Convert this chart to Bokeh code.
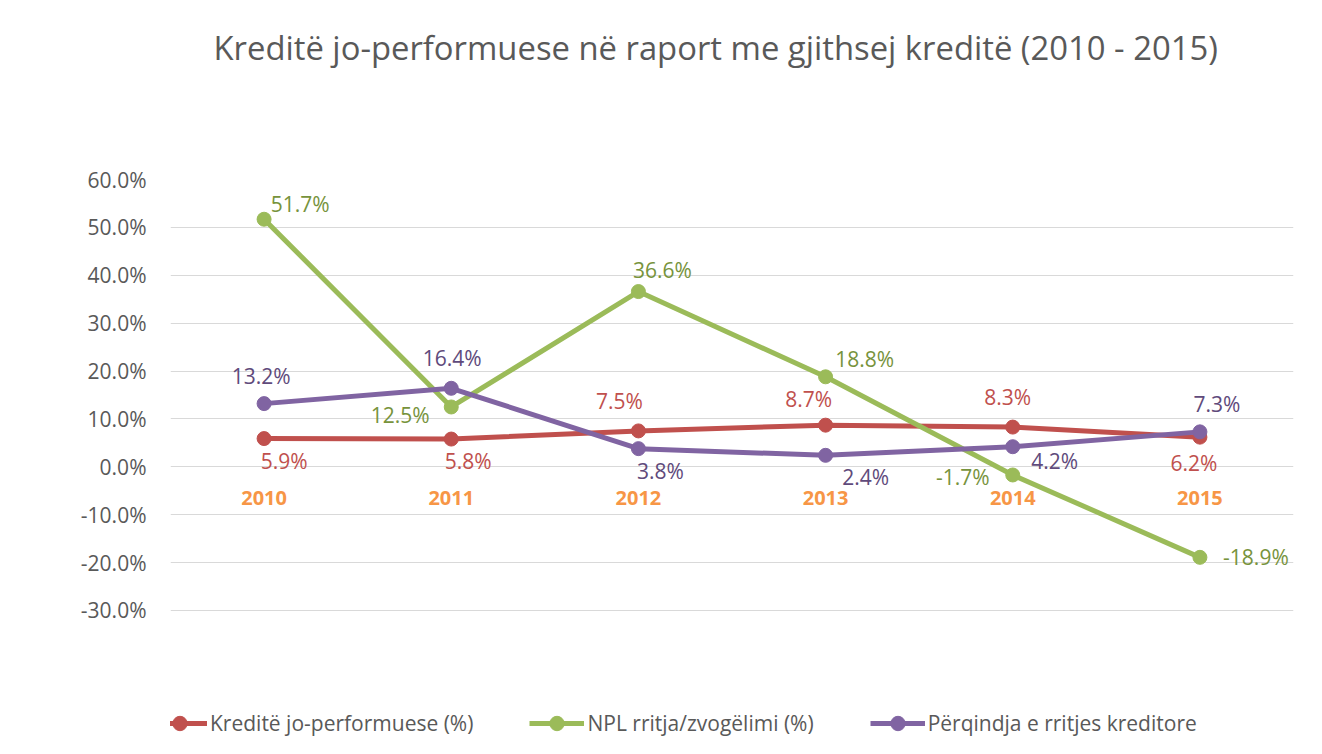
from bokeh.plotting import figure
from bokeh.models import (FactorRange, Range1d, FixedTicker, PrintfTickFormatter,
                          Legend, LegendItem, ColumnDataSource, Title)
from bokeh.core.properties import value
from bokeh.embed import file_html
from bokeh.resources import INLINE

# ---------------- data ----------------
years = ["2010", "2011", "2012", "2013", "2014", "2015"]
npl_ratio = [5.9, 5.8, 7.5, 8.7, 8.3, 6.2]            # Kreditë jo-performuese (%)
npl_growth = [51.7, 12.5, 36.6, 18.8, -1.7, -18.9]     # NPL rritja/zvogëlimi (%)
credit_growth = [13.2, 16.4, 3.8, 2.4, 4.2, 7.3]       # Përqindja e rritjes kreditore
series_names = ["Kreditë jo-performuese (%)", "NPL rritja/zvogëlimi (%)",
                "Përqindja e rritjes kreditore"]
y_ticks = [-30, -20, -10, 0, 10, 20, 30, 40, 50, 60]
title_text = "Kreditë jo-performuese në raport me gjithsej kreditë (2010 - 2015)"

# ---------------- styles ----------------
line_colors = ["#C0504D", "#9BBB59", "#8064A2"]
label_colors = ["#C0504D", "#77933C", "#604A7B"]
# data-label pixel offsets (screen, y downward) per series
label_dx = [[20, 17, -19, -17, -5, -6],
            [36, -51, 24, 39, -50, 56],
            [-3, 1, 22, 40, 42, 17]]
label_dy = [[22, 22, -30, -26, -30, 26],
            [-15, 8, -22, -18, 2, 0],
            [-28, -30, 22, 22, 14, -28]]
FONT = "Open Sans"
GREY = "#595959"

# plot area reaches the bottom of the canvas so that the legend can sit in it;
# ticks/grid only from -30 to 60
p = figure(width=1306, height=746,
           x_range=FactorRange(factors=years, range_padding=0),
           y_range=Range1d(-58.4, 60),
           x_axis_location=None,
           output_backend="svg", toolbar_location=None,
           min_border_left=170, min_border_right=13,
           min_border_top=179, min_border_bottom=0)

p.outline_line_color = None
p.background_fill_color = "white"
p.border_fill_color = "white"

# title (outermost) + spacer title between it and the plot area
p.title.text = title_text
p.title.align = "left"
p.title.offset = 43
p.title.text_font = FONT
p.title.text_font_size = "32.8px"
p.title.text_font_style = "normal"
p.title.text_color = GREY
p.title.standoff = 0
p.add_layout(Title(text=" ", text_font_size="10px", standoff=97), "above")

# grid
p.xgrid.grid_line_color = None
p.ygrid.grid_line_color = "#D9D9D9"
p.ygrid.grid_line_width = 1

# y axis
p.yaxis.ticker = FixedTicker(ticks=y_ticks)
p.yaxis.formatter = PrintfTickFormatter(format="%.1f%%")
p.yaxis.axis_line_color = None
p.yaxis.major_tick_line_color = None
p.yaxis.minor_tick_line_color = None
p.yaxis.major_label_text_font = FONT
p.yaxis.major_label_text_font_size = "21px"
p.yaxis.major_label_text_color = GREY
p.yaxis.major_label_standoff = 18

# category labels sitting under the zero line
p.text(x=years, y=[0] * len(years), text=years, y_offset=31,
       text_align="center", text_baseline="middle",
       text_font=value(FONT), text_font_size="20px", text_font_style="bold",
       text_color="#F79646")

items = []
for k, vals in enumerate([npl_ratio, npl_growth, credit_growth]):
    src = ColumnDataSource(dict(x=years, y=vals))
    lr = p.line("x", "y", source=src, line_color=line_colors[k], line_width=5)
    sr = p.scatter("x", "y", source=src, size=14, fill_color=line_colors[k],
                   line_color=line_colors[k])
    items.append(LegendItem(label=series_names[k], renderers=[lr, sr]))

for k, vals in enumerate([npl_ratio, npl_growth, credit_growth]):
    lsrc = ColumnDataSource(dict(x=years, y=vals,
                                 t=[f"{v:.1f}%" for v in vals],
                                 dx=label_dx[k], dy=label_dy[k]))
    p.text("x", "y", text="t", source=lsrc, x_offset="dx", y_offset="dy",
           text_align="center", text_baseline="middle",
           text_font=value(FONT), text_font_size="21px",
           text_color=label_colors[k])

legend = Legend(items=items, orientation="horizontal",
                location=(-18, 5),
                glyph_width=55, glyph_height=36, label_standoff=3,
                spacing=56, padding=0, margin=0,
                label_text_font=FONT, label_text_font_size="21px",
                label_text_color=GREY,
                border_line_color=None, background_fill_alpha=0)
p.add_layout(legend, "center")

open("out.html", "w").write(file_html(p, INLINE))
